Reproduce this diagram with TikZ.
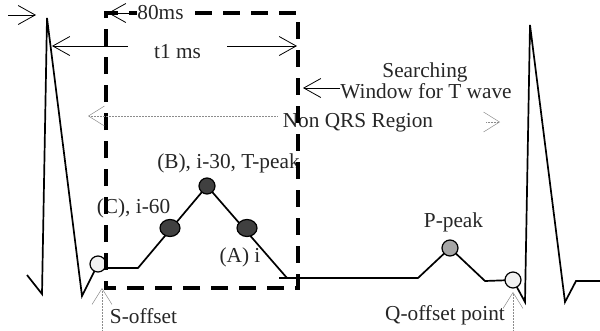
\documentclass[tikz,border=0pt]{standalone}
\usepackage{fontspec}
\setmainfont{Liberation Serif}
\usetikzlibrary{arrows.meta,shapes.geometric}
\begin{document}
\begin{tikzpicture}[x=1pt,y=-1pt,
  ecg/.style={line width=1.7pt, line join=miter},
  barb/.style={-{Straight Barb[length=17pt,width=19pt]}, line width=0.8pt},
  dimarrow/.style={{Straight Barb[length=17pt,width=19pt]}-{Straight Barb[length=17pt,width=19pt]}, line width=0.8pt},
  graybarb/.style={-{Straight Barb[length=16pt,width=20pt]}, line width=0.5pt, black!45, densely dotted},
  lbl/.style={font=\fontsize{21.3}{25}\selectfont, inner sep=0pt, anchor=base, text=black!85},
  win/.style={line width=3.6pt, dash pattern=on 17pt off 11pt},
  dotc/.style={draw, circle, line width=1.2pt, minimum size=16pt, inner sep=0pt},
  dote/.style={draw, ellipse, line width=1.2pt, minimum width=20pt, minimum height=17pt, inner sep=0pt}
]
\useasboundingbox (0,0) rectangle (600,330);

% labels
\node[lbl] (lB) at (228.5,168) {(B), i-30, T-peak};
\node[lbl] (lC) at (133.5,213) {(C), i-60};
\node[lbl] (lA) at (240,262) {(A) i};
\node[lbl] (lP) at (453.5,227) {P-peak};
\node[lbl] (lS) at (143.5,323) {S-offset};
\node[lbl] (lQ) at (445,320) {Q-offset point};
\node[lbl] (lSe) at (425,77) {Searching};
\node[lbl] (lW) at (426,98) {Window for T wave};
\node[lbl] (lN) at (358,127) {Non QRS Region};
\node[lbl] (l80) at (160.5,19) {80ms};

% ECG coordinates
\coordinate (e0) at (27,275);
\coordinate (e1) at (42,294);
\coordinate (e2) at (47,18);
\coordinate (e3) at (82,296);
\coordinate (e4) at (98,264);
\coordinate (e5) at (100,268);
\coordinate (e6) at (138,268);
\coordinate (e7) at (207,186);
\coordinate (e8) at (287,278);
\coordinate (e9) at (279,278);
\coordinate (e10) at (418,278);
\coordinate (e11) at (450,248);
\coordinate (e12) at (485,281);
\coordinate (e13) at (513,280);
\coordinate (e14) at (525,302);
\coordinate (e15) at (530,25);
\coordinate (e16) at (565,302);
\coordinate (e17) at (576,281);
\coordinate (e18) at (600,281);

\draw[ecg] (e0) -- (e1) -- (e2) -- (e3) -- (e4);
\draw[ecg] (e5) -- (e6) -- (e7) -- (e8);
\draw[ecg] (e9) -- (e10) -- (e11) -- (e12) -- (e13) -- (e14) -- (e15) -- (e16) -- (e17) -- (e18);

% points
\node[dotc, fill=black!5] (sOff) at (e4) {};
\node[dotc, fill=black!75] (tPk) at (e7) {};
\node[dote, fill=black!75] (pC) at (170,228) {};
\node[dote, fill=black!75] (pA) at (247,228) {};
\node[dotc, fill=black!35] (pPk) at (e11) {};
\node[dotc, fill=black!5] (qOff) at (e13) {};

% searching window (dashed box)
\coordinate (w1) at (195,13);
\coordinate (w2) at (298,13);
\coordinate (w3) at (298,288);
\coordinate (w4) at (106,288);
\coordinate (w5) at (106,13);
\coordinate (w6) at (137,13);
\draw[win] (w1) -- (w2) -- (w3) -- (w4) -- (w5) -- (w6);

% arrows
\coordinate (a0) at (8,15);
\coordinate (a1) at (36,15);
\draw[barb] (a0) -- (a1);

\coordinate (b0) at (137,13);
\coordinate (b1) at (108,13);
\draw[barb] (b0) -- (b1);

\coordinate (t0) at (52,46);
\coordinate (t1) at (297,46);
\draw[dimarrow] (t0) -- (t1);
\node[lbl, fill=white, minimum width=99pt] (lt1) at (177.5,58) {t1 ms};

\coordinate (s0) at (340,88);
\coordinate (s1) at (303,88);
\draw[barb] (s0) -- (s1);

\coordinate (n0) at (277,116);
\coordinate (n1) at (88,116);
\draw[graybarb] (n0) -- (n1);
\coordinate (n2) at (486,122);
\coordinate (n3) at (500,122);
\draw[graybarb] (n2) -- (n3);

\coordinate (so0) at (102,330);
\coordinate (so1) at (102,288);
\draw[graybarb] (so0) -- (so1);

\coordinate (qo0) at (513,330);
\coordinate (qo1) at (513,292);
\draw[graybarb] (qo0) -- (qo1);
\end{tikzpicture}
\end{document}
